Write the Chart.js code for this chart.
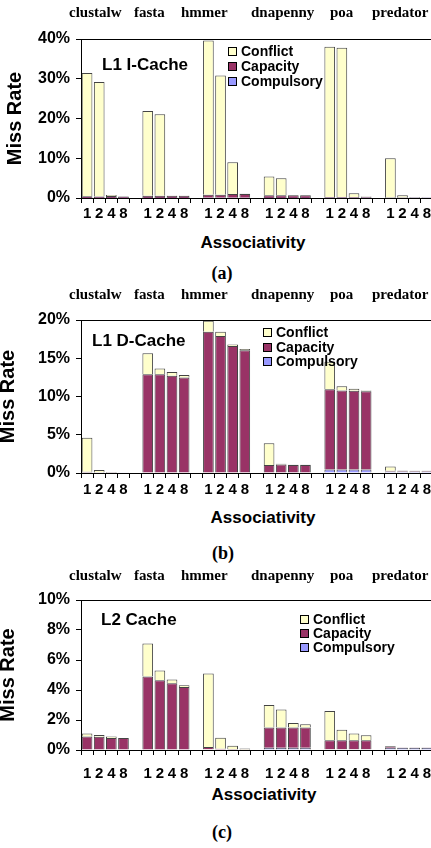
<!DOCTYPE html>
<html>
<head>
<meta charset="utf-8">
<script src="https://cdn.jsdelivr.net/npm/chart.js@4.4.1/dist/chart.umd.min.js"></script>
<style>
  body { margin: 0; width: 431px; height: 848px; overflow: hidden; position: relative; background: #fff; }
  .panel { position: absolute; left: 0; width: 450px; }
  .bench { position: absolute; font: bold 15px "Times New Roman", "Liberation Serif", serif; line-height: 18px; white-space: nowrap; }
  .xtitle { position: absolute; font: bold 17px Arial, "Liberation Sans", sans-serif; transform: translate(-50%, -50%); white-space: nowrap; }
  .caption { position: absolute; font: bold 18px "Times New Roman", "Liberation Serif", serif; transform: translate(-50%, -50%); }
</style>
</head>
<body>
<div class="panel" style="top:19px;height:209px"><canvas id="chartA"></canvas></div>
<div class="panel" style="top:300px;height:203px"><canvas id="chartB"></canvas></div>
<div class="panel" style="top:580px;height:200px"><canvas id="chartC"></canvas></div>
<script>
const benchmarks = ['clustalw', 'fasta', 'hmmer', 'dnapenny', 'poa', 'predator'];
const ways = ['1', '2', '4', '8'];

// L1 I-Cache, 4 values per benchmark (1/2/4/8-way)
const iCompulsory = [0.03, 0.03, 0.03, 0.03, 0.03, 0.03, 0.03, 0.03, 0.05, 0.05, 0.05, 0.05,
                     0.03, 0.03, 0.03, 0.03, 0.02, 0.02, 0.02, 0.02, 0.02, 0.02, 0.02, 0.02];
const iCapacity = [0.4, 0.35, 0.5, 0.35, 0.55, 0.55, 0.55, 0.55, 0.75, 0.75, 0.95, 0.95,
                   0.65, 0.65, 0.65, 0.65, 0.2, 0.2, 0.2, 0.2, 0.05, 0.05, 0.05, 0.05];
const iConflict = [31.0, 28.8, 0.2, 0.05, 21.3, 20.5, 0.05, 0.05, 38.8, 30.0, 8.0, 0.05,
                   4.7, 4.3, 0.05, 0.05, 37.8, 37.6, 1.0, 0.15, 9.9, 0.65, 0.15, 0.05];

// L1 D-Cache
const dCompulsory = [0.05, 0.03, 0.03, 0.02, 0.05, 0.05, 0.05, 0.05, 0.05, 0.05, 0.05, 0.05,
                     0.05, 0.05, 0.05, 0.05, 0.45, 0.45, 0.45, 0.45, 0.2, 0.2, 0.2, 0.2];
const dCapacity = [0.1, 0.05, 0.05, 0.02, 12.85, 12.85, 12.65, 12.45, 18.4, 17.85, 16.55, 16.0,
                   1.0, 1.05, 1.0, 1.0, 10.5, 10.35, 10.3, 10.25, 0.1, 0.1, 0.1, 0.1];
const dConflict = [4.45, 0.3, 0.05, 0, 2.75, 0.75, 0.5, 0.3, 1.45, 0.55, 0.2, 0.15,
                   2.85, 0.1, 0.02, 0.02, 3.6, 0.55, 0.25, 0.1, 0.55, 0.02, 0, 0];

// L2 Cache
const cCompulsory = [0.03, 0.03, 0.03, 0.03, 0.03, 0.03, 0.03, 0.03, 0.05, 0.03, 0.03, 0.02,
                     0.15, 0.15, 0.15, 0.15, 0.05, 0.05, 0.05, 0.05, 0.15, 0.15, 0.15, 0.15];
const cCapacity = [0.87, 0.85, 0.77, 0.77, 4.87, 4.62, 4.42, 4.17, 0.15, 0.06, 0.03, 0.02,
                   1.35, 1.35, 1.35, 1.35, 0.6, 0.6, 0.6, 0.6, 0.1, 0.02, 0.02, 0.02];
const cConflict = [0.2, 0.12, 0.1, 0, 2.2, 0.65, 0.25, 0.12, 4.9, 0.72, 0.22, 0.06,
                   1.5, 1.2, 0.3, 0.22, 1.95, 0.7, 0.45, 0.33, 0.02, 0, 0, 0];

const SANS = 'Arial, "Liberation Sans", sans-serif';
const colors = { Compulsory: '#9999FF', Capacity: '#993366', Conflict: '#FFFFCC' };

// one empty slot after each group of four
const labels = benchmarks.flatMap(() => [...ways, '']);
function spread(vals) {
  const out = [];
  benchmarks.forEach((b, g) => out.push(...vals.slice(g * 4, g * 4 + 4), null));
  return out;
}

// title, legend and top frame line drawn inside the plot
const insetPlugin = {
  id: 'inset',
  afterDatasetsDraw(chart, args, opts) {
    const { ctx, chartArea: a } = chart;
    ctx.save();
    ctx.strokeStyle = '#000';
    ctx.lineWidth = 1;
    ctx.beginPath();
    ctx.moveTo(a.left, a.top + 0.5);
    ctx.lineTo(a.right, a.top + 0.5);
    ctx.stroke();

    ctx.fillStyle = '#000';
    ctx.textBaseline = 'middle';
    ctx.textAlign = 'left';
    ctx.font = 'bold 17px ' + SANS;
    ctx.fillText(opts.title, a.left + opts.titleX, a.top + opts.titleY);

    ctx.font = 'bold 14px ' + SANS;
    chart.data.datasets.slice().reverse().forEach((ds, i) => {
      const x = Math.round(a.left + opts.legendX);
      const y = Math.round(a.top + opts.legendY + i * opts.legendGap);
      ctx.fillStyle = ds.backgroundColor;
      ctx.fillRect(x, y - 4, 9, 9);
      ctx.strokeStyle = '#000';
      ctx.strokeRect(x + 0.5, y - 3.5, 8, 8);
      ctx.fillStyle = '#000';
      ctx.fillText(ds.label, x + 13, y + 1);
    });
    ctx.restore();
  }
};

const panels = [
  { id: 'chartA', title: 'L1 I-Cache', max: 40, step: 10, series: [iCompulsory, iCapacity, iConflict],
    titleX: 21, titleY: 26, legendX: 147, legendY: 12, legendGap: 15, yTitlePad: 5.5, xPad: 2,
    top: 0, xTitle: [253, 243], caption: ['(a)', 222, 273] },
  { id: 'chartB', title: 'L1 D-Cache', max: 20, step: 5, series: [dCompulsory, dCapacity, dConflict],
    titleX: 11, titleY: 21, legendX: 182, legendY: 12, legendGap: 14.7, yTitlePad: -2, xPad: 3,
    top: 282, xTitle: [263, 518], caption: ['(b)', 223, 553] },
  { id: 'chartC', title: 'L2 Cache', max: 10, step: 2, series: [cCompulsory, cCapacity, cConflict],
    titleX: 20, titleY: 20, legendX: 219, legendY: 19, legendGap: 14, yTitlePad: -2, xPad: 10,
    top: 563, xTitle: [264, 795], caption: ['(c)', 222, 832] }
];

const benchLeft = [69, 134, 181, 251, 330, 372];

panels.forEach(p => {
  const names = ['Compulsory', 'Capacity', 'Conflict'];
  new Chart(document.getElementById(p.id), {
    type: 'bar',
    data: {
      labels: labels,
      datasets: names.map((n, i) => ({
        label: n,
        data: spread(p.series[i]),
        backgroundColor: colors[n],
        borderColor: '#444',
        borderWidth: 1,
        barPercentage: 0.88,
        categoryPercentage: 1,
      })),
    },
    options: {
      responsive: true,
      maintainAspectRatio: false,
      animation: false,
      layout: { padding: { top: 20, right: 5, left: 0, bottom: 0 } },
      plugins: {
        legend: { display: false },
        tooltip: { enabled: false },
        inset: p,
      },
      scales: {
        x: {
          stacked: true,
          afterFit: (s) => { s.height = 30; },
          grid: { offset: true, drawOnChartArea: false, tickLength: 5, color: '#000' },
          border: { color: '#000', width: 1 },
          ticks: { autoSkip: false, maxRotation: 0, padding: p.xPad, color: '#000', font: { family: SANS, size: 15, weight: 'bold' } },
        },
        y: {
          stacked: true,
          min: 0,
          max: p.max,
          afterFit: (s) => { s.width = 81; },
          grid: { drawOnChartArea: false, tickLength: 5, color: '#000' },
          border: { color: '#000', width: 1 },
          ticks: { stepSize: p.step, padding: 6, color: '#000', font: { family: SANS, size: 16, weight: 'bold' },
                   callback: (v) => v + '%' },
          title: { display: true, text: 'Miss Rate', color: '#000', padding: { top: p.yTitlePad, bottom: 0 },
                   font: { family: SANS, size: 20, weight: 'bold', lineHeight: 1 } },
        },
      },
    },
    plugins: [insetPlugin],
  });

  benchmarks.forEach((b, i) => {
    const el = document.createElement('div');
    el.className = 'bench';
    el.style.left = benchLeft[i] + 'px';
    el.style.top = (p.top + 3) + 'px';
    el.textContent = b;
    document.body.appendChild(el);
  });

  const xt = document.createElement('div');
  xt.className = 'xtitle';
  xt.style.left = p.xTitle[0] + 'px';
  xt.style.top = p.xTitle[1] + 'px';
  xt.textContent = 'Associativity';
  document.body.appendChild(xt);

  const cap = document.createElement('div');
  cap.className = 'caption';
  cap.style.left = p.caption[1] + 'px';
  cap.style.top = p.caption[2] + 'px';
  cap.textContent = p.caption[0];
  document.body.appendChild(cap);
});
</script>
</body>
</html>
